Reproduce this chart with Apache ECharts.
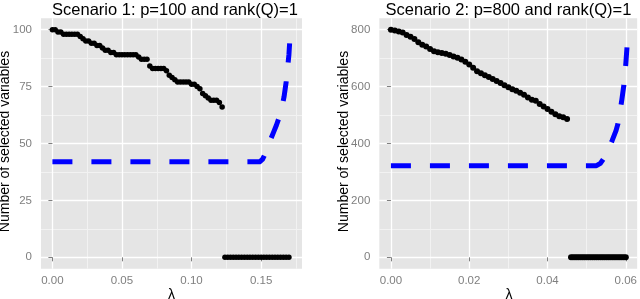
<!DOCTYPE html>
<html><head><meta charset="utf-8">
<script src="https://cdn.jsdelivr.net/npm/echarts@6/dist/echarts.min.js"></script>
<style>html,body{margin:0;padding:0;background:#fff}#c{width:640px;height:299px}</style>
</head><body><div id="c"></div>
<script>
// ---------- text ----------
const titles = ['Scenario 1: p=100 and rank(Q)=1', 'Scenario 2: p=800 and rank(Q)=1'];
const yName = 'Number of selected variables';
const xName = 'λ';

// ---------- scenario 1 data ----------
const lambda1 = [0,0.002,0.004,0.006,0.008,0.010,0.012,0.014,0.016,0.018,
  0.020,0.022,0.024,0.026,0.028,0.030,0.032,0.034,0.036,0.038,
  0.040,0.042,0.044,0.046,0.048,0.050,0.052,0.054,0.056,0.058,
  0.060,0.062,0.064,0.066,0.068,0.070,0.072,0.074,0.076,0.078,
  0.080,0.082,0.084,0.086,0.088,0.090,0.092,0.094,0.096,0.098,
  0.100,0.102,0.104,0.106,0.108,0.110,0.112,0.114,0.116,0.118,
  0.120,0.122,0.124,0.126,0.128,0.130,0.132,0.134,0.136,0.138,
  0.140,0.142,0.144,0.146,0.148,0.150,0.152,0.154,0.156,0.158,
  0.160,0.162,0.164,0.166,0.168,0.170];
const selected1 = [100,100,99,99,98,98,98,98,98,98,
  97,96,95,95,94,94,93,93,92,91,
  91,90,90,89,89,89,89,89,89,89,
  89,88,87,87,87,84,83,83,83,83,
  83,82,80,79,78,77,77,77,77,77,
  76,76,75,74,72,71,70,69,69,69,
  68,66,0,0,0,0,0,0,0,0,
  0,0,0,0,0,0,0,0,0,0,
  0,0,0,0,0,0];
const blueLambda1 = [0,0.149,0.151,0.153,0.155,0.157,0.159,0.161,0.163,0.165,0.1665,0.168,0.169,0.170,0.1705];
const blue1 = [42,42,43,45.5,48.5,52,55,58,61.5,66,70.5,77,83,89,94];

// ---------- scenario 2 data ----------
const lambda2 = [0,0.001,0.002,0.003,0.004,0.005,0.006,0.007,0.008,0.009,
  0.010,0.011,0.012,0.013,0.014,0.015,0.016,0.017,0.018,0.019,
  0.020,0.021,0.022,0.023,0.024,0.025,0.026,0.027,0.028,0.029,
  0.030,0.031,0.032,0.033,0.034,0.035,0.036,0.037,0.038,0.039,
  0.040,0.041,0.042,0.043,0.044,0.045,
  0.0460,0.0465,0.0470,0.0475,0.0480,0.0485,0.0490,0.0495,0.0500,0.0505,
  0.0510,0.0515,0.0520,0.0525,0.0530,0.0535,0.0540,0.0545,0.0550,0.0555,
  0.0560,0.0565,0.0570,0.0575,0.0580,0.0585,0.0590,0.0595,0.0600];
const selected2 = [800,797,794,790,781,775,767,756,747,741,
  732,724,721,718,715,711,706,701,695,687,
  678,666,654,647,640,634,627,620,613,605,
  598,591,585,578,571,562,554,550,539,530,
  521,512,503,496,492,486,
  0,0,0,0,0,0,0,0,0,0,
  0,0,0,0,0,0,0,0,0,0,
  0,0,0,0,0,0,0,0,0];
const blueLambda2 = [0,0.0525,0.0535,0.0545,0.0555,0.0565,0.0575,0.058,0.0585,0.059,0.0595,0.060,0.0603];
const blue2 = [322,322,330,350,378,410,445,470,510,555,605,680,738];

// ---------- ticks ----------
const xTicks1 = [0, 0.05, 0.10, 0.15];
const xMinor1 = [0.025, 0.075, 0.125, 0.175];
const yTicks1 = [0, 25, 50, 75, 100];
const yMinor1 = [12.5, 37.5, 62.5, 87.5];
const xTicks2 = [0, 0.02, 0.04, 0.06];
const xMinor2 = [0.01, 0.03, 0.05];
const yTicks2 = [0, 200, 400, 600, 800];
const yMinor2 = [100, 300, 500, 700];

const FONT = '"Liberation Sans", Arial, Helvetica, sans-serif';
const zip = (a, b) => a.map((v, i) => [v, b[i]]);

const grids = [
  {left: 41, top: 18.3, width: 261, height: 250.4, xr: [-0.0082, 0.1794], yr: [-5, 105],
   xt: xTicks1, xm: xMinor1, yt: yTicks1, ym: yMinor1, fx: v => v.toFixed(2)},
  {left: 379.3, top: 18.3, width: 259.7, height: 250.4, xr: [-0.00297, 0.0629], yr: [-40, 840],
   xt: xTicks2, xm: xMinor2, yt: yTicks2, ym: yMinor2, fx: v => v.toFixed(2)}
];

const grid = [], xAxis = [], yAxis = [];
grids.forEach((g, i) => {
  grid.push({left: g.left, top: g.top, width: g.width, height: g.height, show: true,
    backgroundColor: '#E5E5E5', borderWidth: 0});
});
grids.forEach((g, i) => {
  xAxis.push({gridIndex: i, type: 'value', min: g.xr[0], max: g.xr[1], z: 1,
    axisLine: {show: false},
    axisTick: {show: true, length: 4, lineStyle: {color: '#7f7f7f', width: 1}, customValues: g.xt},
    axisLabel: {customValues: g.xt, formatter: g.fx, color: '#7f7f7f', fontSize: 11.5, margin: 6, fontFamily: FONT},
    splitLine: {show: true, lineStyle: {color: '#ffffff', width: 1.3}}});
  yAxis.push({gridIndex: i, type: 'value', min: g.yr[0], max: g.yr[1], z: 1,
    axisLine: {show: false},
    axisTick: {show: true, length: 4, lineStyle: {color: '#7f7f7f', width: 1}, customValues: g.yt},
    axisLabel: {customValues: g.yt, formatter: v => String(v), color: '#7f7f7f', fontSize: 11.5, margin: 9, fontFamily: FONT},
    splitLine: {show: true, lineStyle: {color: '#ffffff', width: 1.3}}});
});
grids.forEach((g, i) => {
  xAxis.push({gridIndex: i, type: 'value', min: g.xr[0], max: g.xr[1], z: 0,
    axisLine: {show: false}, axisLabel: {show: false},
    axisTick: {show: false, customValues: g.xm},
    splitLine: {show: true, lineStyle: {color: '#F2F2F2', width: 1}}});
  yAxis.push({gridIndex: i, type: 'value', min: g.yr[0], max: g.yr[1], z: 0,
    axisLine: {show: false}, axisLabel: {show: false},
    axisTick: {show: false, customValues: g.ym},
    splitLine: {show: true, lineStyle: {color: '#F2F2F2', width: 1}}});
});

const blueStyle = {color: '#0000FF', width: 5, type: [20, 19], cap: 'butt', join: 'round'};
const dotStyle = {color: '#000', opacity: 1};
const series = [
  {type: 'line', xAxisIndex: 0, yAxisIndex: 0, data: zip(blueLambda1, blue1), showSymbol: false, symbol: 'none', lineStyle: blueStyle, z: 3, silent: true},
  {type: 'scatter', xAxisIndex: 0, yAxisIndex: 0, data: zip(lambda1, selected1), symbolSize: 5.5, itemStyle: dotStyle, z: 4, silent: true},
  {type: 'line', xAxisIndex: 1, yAxisIndex: 1, data: zip(blueLambda2, blue2), showSymbol: false, symbol: 'none', lineStyle: blueStyle, z: 3, silent: true},
  {type: 'scatter', xAxisIndex: 1, yAxisIndex: 1, data: zip(lambda2, selected2), symbolSize: 6, itemStyle: dotStyle, z: 4, silent: true}
];

const txt = (text, x, y, size, color, rot) => ({type: 'text', x, y, rotation: rot || 0, silent: true,
  style: {text, fill: color, font: size + 'px ' + FONT, align: 'center', verticalAlign: 'middle'}});

const graphic = [
  txt(titles[0], 175, 10, 16.5, '#000'),
  txt(titles[1], 508.5, 10, 16.5, '#000'),
  txt(yName, 5, 141.5, 14, '#000', Math.PI / 2),
  txt(yName, 344, 141.5, 14, '#000', Math.PI / 2),
  txt(xName, 171.5, 295, 14, '#000'),
  txt(xName, 509, 295, 14, '#000')
];

const chart = echarts.init(document.getElementById('c'), null, {renderer: 'canvas'});
chart.setOption({animation: false, backgroundColor: '#fff', grid, xAxis, yAxis, series, graphic});
</script></body></html>
